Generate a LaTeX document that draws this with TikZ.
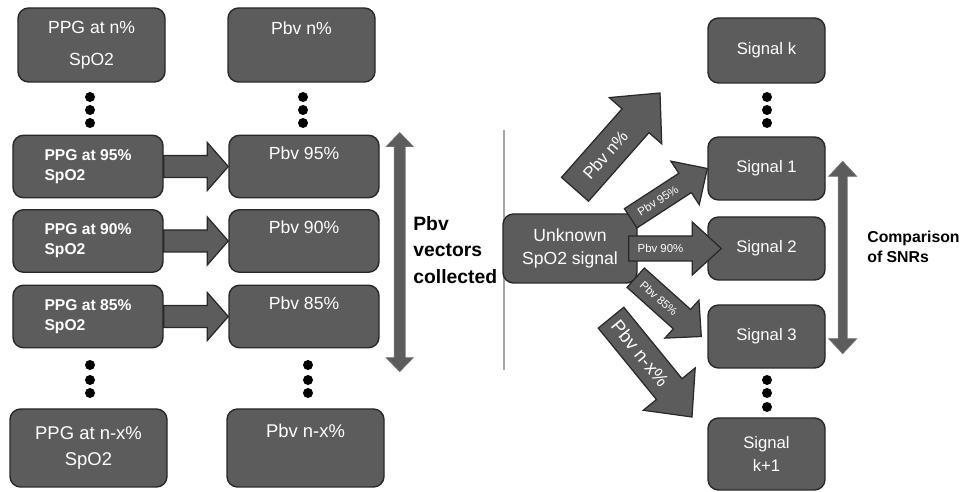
\documentclass[tikz,border=0pt]{standalone}
\usepackage{fontspec}
\setmainfont{Liberation Sans}
\usetikzlibrary{calc}

\definecolor{boxgray}{RGB}{92,92,92}
\definecolor{edgegray}{RGB}{40,40,40}

% block arrow: tail, tip, shaft half width, head half width, head length, label font, label
\newcommand{\blkarrow}[7]{%
  \path (#1) coordinate (ba-t) (#2) coordinate (ba-h);
  \path ($(ba-h)!#5!(ba-t)$) coordinate (ba-b);
  \draw[blockarr] ($(ba-t)!#3!90:(ba-h)$) -- ($(ba-b)!#3!90:(ba-h)$) -- ($(ba-b)!#4!90:(ba-h)$)
    -- (ba-h) -- ($(ba-b)!#4!-90:(ba-h)$) -- ($(ba-b)!#3!-90:(ba-h)$) -- ($(ba-t)!#3!-90:(ba-h)$) -- cycle;
  \path (ba-t) -- (ba-b) node[midway, sloped, text=white, font=#6] {#7};
}
% double-headed block arrow: end a, end b, shaft half width, head half width, head length
\newcommand{\dblarrow}[5]{%
  \path (#1) coordinate (da-a) (#2) coordinate (da-b);
  \path ($(da-a)!#5!(da-b)$) coordinate (da-p) ($(da-b)!#5!(da-a)$) coordinate (da-q);
  \draw[blockarr, draw=black!55, line width=0.4pt] (da-a) -- ($(da-p)!#4!90:(da-b)$) -- ($(da-p)!#3!90:(da-b)$)
    -- ($(da-q)!#3!90:(da-b)$) -- ($(da-q)!#4!90:(da-b)$) -- (da-b) -- ($(da-q)!#4!-90:(da-b)$)
    -- ($(da-q)!#3!-90:(da-b)$) -- ($(da-p)!#3!-90:(da-b)$) -- ($(da-p)!#4!-90:(da-b)$) -- cycle;
}

\begin{document}
\begin{tikzpicture}[
      box/.style={draw=edgegray, fill=boxgray, line width=0.8pt, rounded corners=6pt, text=white,
                  inner sep=0pt, align=center, font=\fontsize{9.5}{13}\selectfont},
      ppgbox/.style={box, minimum width=3cm, minimum height=1.25cm, align=left,
                  font=\fontsize{8.9}{11.3}\selectfont\bfseries},
      pbvbox/.style={box, minimum width=3cm, minimum height=1.25cm, font=\fontsize{10}{12}\selectfont},
      endbox/.style={box, minimum width=2.94cm, minimum height=1.48cm},
      sigbox/.style={box, minimum width=2.34cm, minimum height=1.26cm},
      blockarr/.style={draw=edgegray, fill=boxgray, line width=0.7pt, line join=miter},
      note/.style={anchor=west, align=left, text=black, inner sep=0pt}]

    \useasboundingbox (0,0) rectangle (19.3,9.84);

    % ---------------- left: PPG to Pbv ----------------
    \node[endbox, font=\fontsize{10}{18}\selectfont] (ppgN) at (1.83,8.94) {PPG at n\%\\SpO2};
    \node[endbox, font=\fontsize{10}{15}\selectfont] (pbvN) at (6.03,8.94) {Pbv n\%\\\strut};

    \foreach \p/\y in {95/6.51, 90/5.02, 85/3.51} {
      \node[ppgbox] (ppg\p) at (1.76,\y) {PPG at \p\%\\SpO2};
      \node[pbvbox] (pbv\p) at (6.08,\y) {Pbv \p\%\\\strut};
      \blkarrow{ppg\p.east}{pbv\p.west}{0.22cm}{0.48cm}{0.42cm}{\tiny}{}
    }

    \node[endbox, minimum width=3.14cm, minimum height=1.56cm, font=\fontsize{10.5}{15}\selectfont]
      (ppgNX) at (1.77,0.88) {PPG at n-x\%\\SpO2};
    \node[endbox, minimum width=3.14cm, minimum height=1.56cm, font=\fontsize{10.5}{15}\selectfont]
      (pbvNX) at (6.11,0.88) {Pbv n-x\%\\\strut};

    % dots between the rows
    \foreach \x/\y in {1.8/7.9, 1.8/7.64, 1.8/7.38, 6.06/7.9, 6.06/7.64, 6.06/7.38,
                       1.8/2.54, 1.8/2.24, 1.8/1.98, 6.16/2.54, 6.16/2.24, 6.16/1.98}
      \fill[black] (\x,\y) circle (0.1);

    \dblarrow{[xshift=0.4cm, yshift=0.04cm]pbv95.north east}{[xshift=0.4cm, yshift=-0.465cm]pbv85.south east}{0.11cm}{0.27cm}{0.28cm}
    \node[note, font=\fontsize{11}{15.3}\selectfont\bfseries] (vecnote) at (8.26,4.84) {Pbv\\vectors\\collected};

    \draw[black!35, line width=0.6pt] (10.08,7.24) -- (10.08,2.44);

    % ---------------- right: unknown signal against the Pbv vectors ----------------
    \node[box, minimum width=2.68cm, minimum height=1.38cm, font=\fontsize{10}{13}\selectfont]
      (unk) at (11.4,4.87) {Unknown\\SpO2 signal};

    \node[sigbox, minimum height=1.3cm] (sigK) at (15.33,8.83) {Signal k};
    \node[sigbox] (sig1) at (15.33,6.47) {Signal 1};
    \node[sigbox] (sig2) at (15.33,4.87) {Signal 2};
    \node[sigbox] (sig3) at (15.33,3.11) {Signal 3};
    \node[sigbox, minimum height=1.44cm] (sigK1) at (15.33,0.76) {Signal\\k+1};

    \foreach \y in {7.9, 7.64, 7.38, 2.24, 1.98, 1.7}
      \fill[black] (15.34,\y) circle (0.1);

    \coordinate (pnTip)  at (13.2,7.98);
    \coordinate (pnxTip) at (13.84,1.5);

    \blkarrow{[xshift=0.1cm, yshift=0.48cm]unk.north}{pnTip}{0.36cm}{0.7cm}{0.74cm}{\fontsize{9.6}{11}\selectfont}{Pbv n\%}
    \blkarrow{[xshift=-0.14cm, yshift=-0.1cm]unk.north east}{sig1.west}{0.23cm}{0.52cm}{0.53cm}{\fontsize{6.5}{7}\selectfont}{Pbv 95\%}
    \blkarrow{[xshift=-0.18cm]unk.east}{[xshift=0.28cm]sig2.west}{0.25cm}{0.53cm}{0.58cm}{\fontsize{6.5}{7}\selectfont}{Pbv 90\%}
    \blkarrow{[xshift=-0.04cm, yshift=0.12cm]unk.south east}{[xshift=-0.12cm]sig3.west}{0.26cm}{0.51cm}{0.52cm}{\fontsize{6.5}{7}\selectfont}{Pbv 85\%}
    \blkarrow{[xshift=0.82cm, yshift=-0.68cm]unk.south}{pnxTip}{0.33cm}{0.67cm}{0.72cm}{\fontsize{10.5}{12}\selectfont}{Pbv n-x\%}

    \dblarrow{[xshift=0.34cm, yshift=-0.5cm]sig1.north east}{[xshift=0.34cm, yshift=0.3cm]sig3.south east}{0.09cm}{0.28cm}{0.3cm}
    \node[note, font=\fontsize{9}{11.3}\selectfont\bfseries] (snrnote) at (17.34,4.9) {Comparison\\of SNRs};
  \end{tikzpicture}
\end{document}
